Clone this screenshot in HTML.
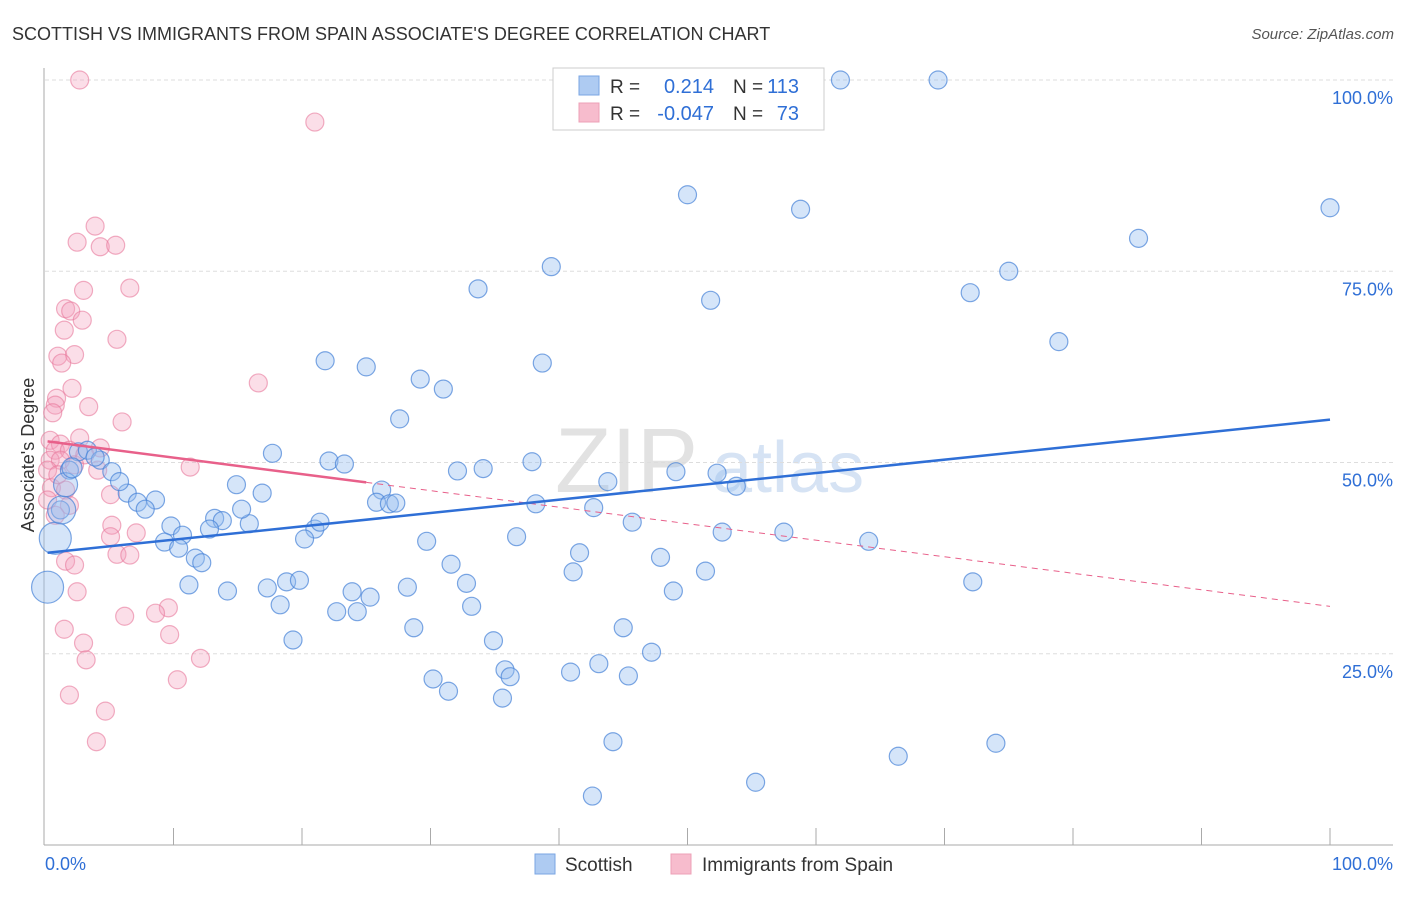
<!DOCTYPE html>
<html><head><meta charset="utf-8"><style>
body{margin:0;background:#fff;font-family:"Liberation Sans",sans-serif}
svg text{font-family:"Liberation Sans",sans-serif}
</style></head><body>
<svg id="chart" width="1406" height="892" xmlns="http://www.w3.org/2000/svg">
<text x="12" y="40" font-size="18" fill="#333">SCOTTISH VS IMMIGRANTS FROM SPAIN ASSOCIATE'S DEGREE CORRELATION CHART</text>
<text x="1394" y="39" font-size="15" fill="#555" font-style="italic" text-anchor="end">Source: ZipAtlas.com</text>
<g>
<text x="555" y="492" font-size="92" font-family="Liberation Serif" fill="#e2e2e2">ZIP</text>
<text x="712" y="492" font-size="72" fill="#d6e3f4">atlas</text>
</g>
<g id="grid"></g>
<g id="axes"></g>
<g id="marks"></g>
<g>
<rect x="553" y="68" width="271" height="62" fill="#fff" stroke="#ccc"/>
<rect x="579" y="76" width="20" height="19" fill="#aecbf2" stroke="#7aa6e3"/>
<rect x="579" y="103" width="20" height="19" fill="#f7bccd" stroke="#eda0b7"/>
<text x="610" y="93" font-size="19" fill="#333">R =</text>
<text x="714" y="93" font-size="20" fill="#2f6fd6" text-anchor="end">0.214</text>
<text x="733" y="93" font-size="19" fill="#333">N =</text>
<text x="799" y="93" font-size="20" fill="#2f6fd6" text-anchor="end">113</text>
<text x="610" y="120" font-size="19" fill="#333">R =</text>
<text x="714" y="120" font-size="20" fill="#2f6fd6" text-anchor="end">-0.047</text>
<text x="733" y="120" font-size="19" fill="#333">N =</text>
<text x="799" y="120" font-size="20" fill="#2f6fd6" text-anchor="end">73</text>
</g>
<g>
<rect x="535" y="854" width="20" height="20" fill="#aecbf2" stroke="#7aa6e3"/>
<text x="565" y="871" font-size="19" fill="#333">Scottish</text>
<rect x="671" y="854" width="20" height="20" fill="#f7bccd" stroke="#eda0b7"/>
<text x="702" y="871" font-size="19" fill="#333">Immigrants from Spain</text>
</g>
<text transform="translate(34,455) rotate(-90)" font-size="18" fill="#333" text-anchor="middle">Associate's Degree</text>
</svg>
<script>
const yTicks=[25,50,75,100];
const yTickLabels=["25.0%","50.0%","75.0%","100.0%"];
const xTickLabels=["0.0%","100.0%"];
const scottishX=[61.9,69.5,50.0,58.8,100,85.1,39.4,75.0,33.7,51.8,72.0,78.9,21.8,25.0,38.7,29.2,31.0,27.6,17.7,22.1,23.3,37.9,32.1,34.1,49.1,52.3,43.8,53.8,14.9,16.9,26.2,6.4,8.6,7.2,7.8,25.8,26.8,27.3,38.2,42.7,13.2,13.8,15.9,12.8,9.8,15.3,21.0,21.4,45.7,52.7,57.5,64.1,9.3,10.7,10.4,20.2,29.7,36.7,41.6,47.9,11.7,12.2,31.6,41.1,51.4,11.2,14.2,17.3,18.8,19.8,23.9,25.3,28.2,32.8,48.9,72.2,18.3,22.7,24.3,33.2,28.7,45.0,19.3,34.9,47.2,30.2,35.8,36.2,40.9,43.1,45.4,31.4,35.6,44.2,66.4,74.0,55.3,42.6,1.2,1.9,2.6,3.3,4.3,5.2,5.8,3.9,0.2,0.8,1.3,1.6,2.1];
const scottishY=[100,100,85.0,83.1,83.3,79.3,75.6,75.0,72.7,71.2,72.2,65.8,63.3,62.5,63.0,60.9,59.6,55.7,51.2,50.2,49.8,50.1,48.9,49.2,48.8,48.6,47.5,46.9,47.1,46.0,46.4,46.0,45.1,44.8,43.9,44.8,44.6,44.7,44.6,44.1,42.7,42.4,42.0,41.3,41.7,43.9,41.3,42.2,42.2,40.9,40.9,39.7,39.6,40.5,38.8,40.0,39.7,40.3,38.2,37.6,37.5,36.9,36.7,35.7,35.8,34.0,33.2,33.6,34.4,34.6,33.1,32.4,33.7,34.2,33.2,34.4,31.4,30.5,30.5,31.2,28.4,28.4,26.8,26.7,25.2,21.7,22.9,22.0,22.6,23.7,22.1,20.1,19.2,13.5,11.6,13.3,8.2,6.4,43.8,49.0,51.4,51.6,50.3,48.8,47.5,50.7,33.7,40.1,43.8,47.1,49.3];
const scottishSize=[9,9,9,9,9,9,9,9,9,9,9,9,9,9,9,9,9,9,9,9,9,9,9,9,9,9,9,9,9,9,9,9,9,9,9,9,9,9,9,9,9,9,9,9,9,9,9,9,9,9,9,9,9,9,9,9,9,9,9,9,9,9,9,9,9,9,9,9,9,9,9,9,9,9,9,9,9,9,9,9,9,9,9,9,9,9,9,9,9,9,9,9,9,9,9,9,9,9,9,9,9,9,9,9,9,9,16,16,14,12,10];
const spainX=[2.7,21.0,3.9,2.5,4.3,5.5,6.6,3.0,1.6,2.0,2.9,1.5,5.6,1.0,2.3,1.3,16.6,2.1,0.9,0.8,3.4,0.6,6.0,0.4,1.2,2.7,4.3,11.3,0.8,1.9,0.4,1.2,2.3,3.1,4.1,0.5,1.6,0.2,5.1,1.9,5.2,5.1,0.8,7.1,5.6,6.6,1.6,2.3,9.6,8.6,6.2,2.5,1.5,3.0,9.7,3.2,12.1,10.3,1.9,4.7,4.0,0.2,1.0];
const spainY=[100,94.5,80.9,78.8,78.2,78.4,72.8,72.5,70.1,69.8,68.6,67.3,66.1,63.9,64.1,63.0,60.4,59.7,58.4,57.5,57.3,56.5,55.3,52.9,52.4,53.2,51.9,49.4,51.6,51.6,50.3,50.3,49.7,51.0,49.0,46.7,46.4,45.1,45.8,44.4,41.8,40.3,43.1,40.8,38.0,37.9,37.1,36.6,31.0,30.3,29.9,33.1,28.2,26.4,27.5,24.2,24.4,21.6,19.6,17.5,13.5,49.0,48.4];
const blueTrend=[38.2,55.6];
const pinkTrend=[52.8,31.2];
const pinkSolidEnd=25;

const X0=45,X1=1330,Y0=845,Y1=80;
const xs=v=>X0+(X1-X0)*v/100;
const ys=v=>Y0-(Y0-Y1)*v/100;
const NS="http://www.w3.org/2000/svg";
function mk(tag,parent,attrs){const e=document.createElementNS(NS,tag);for(const k in attrs)e.setAttribute(k,attrs[k]);parent.appendChild(e);return e;}
const grid=document.getElementById('grid'),axes=document.getElementById('axes'),marks=document.getElementById('marks');
yTicks.forEach((t,i)=>{
  const l=mk('line',grid,{x1:X0,x2:1393,y1:ys(t),y2:ys(t),stroke:'#ddd','stroke-dasharray':'4,3'});
  
  
  const tx=mk('text',axes,{x:1393,y:ys(t)+24,'font-size':18,fill:'#2f6fd6','text-anchor':'end'});
  tx.textContent=yTickLabels[i];
  
  
});
const ax=mk('line',axes,{x1:44,x2:44,y1:68,y2:Y0,stroke:'#aaa'});


const bx=mk('line',axes,{x1:44,x2:1393,y1:Y0,y2:Y0,stroke:'#aaa'});


for(let i=1;i<=10;i++){
  const t=mk('line',axes,{x1:xs(i*10),x2:xs(i*10),y1:828,y2:Y0,stroke:'#aaa'});
  
  
}
const xl0=mk('text',axes,{x:45,y:870,'font-size':18,fill:'#2f6fd6'});
xl0.textContent=xTickLabels[0];


const xl1=mk('text',axes,{x:1393,y:870,'font-size':18,fill:'#2f6fd6','text-anchor':'end'});
xl1.textContent=xTickLabels[1];



spainX.forEach((v,i)=>{
  const c=mk('circle',marks,{cx:xs(v),cy:ys(spainY[i]),r:9,fill:'rgba(244,160,188,0.35)',stroke:'rgba(232,120,155,0.6)','stroke-width':1.2});
  
  
});
scottishX.forEach((v,i)=>{
  const c=mk('circle',marks,{cx:xs(v),cy:ys(scottishY[i]),r:scottishSize[i],fill:'rgba(150,190,240,0.4)',stroke:'rgba(70,130,215,0.7)','stroke-width':1.2});
  
  
});
const pAt=x=>pinkTrend[0]+(pinkTrend[1]-pinkTrend[0])*x/100;
const pd=mk('line',marks,{x1:xs(pinkSolidEnd),y1:ys(pAt(pinkSolidEnd)),x2:xs(100),y2:ys(pinkTrend[1]),stroke:'#e8608a','stroke-width':1,'stroke-dasharray':'6,5'});


const ps=mk('line',marks,{x1:xs(0.2),y1:ys(pAt(0.2)),x2:xs(pinkSolidEnd),y2:ys(pAt(pinkSolidEnd)),stroke:'#e8608a','stroke-width':2.5});


const bl=mk('line',marks,{x1:xs(0.2),y1:ys(blueTrend[0]),x2:xs(100),y2:ys(blueTrend[1]),stroke:'#2f6fd6','stroke-width':2.5});


</script>
</body></html>
